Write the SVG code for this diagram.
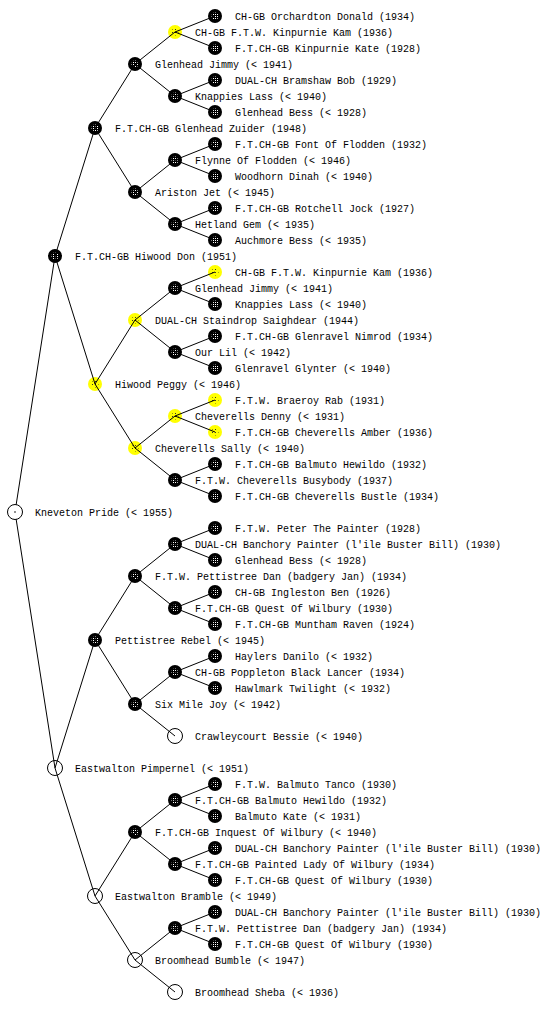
<svg xmlns="http://www.w3.org/2000/svg" xmlns:xlink="http://www.w3.org/1999/xlink" width="560" height="1024" viewBox="0 0 560 1024">
<style>
text{font-family:"Liberation Mono","DejaVu Sans Mono",monospace;font-size:10px;fill:#000}
#connectors line{stroke:#000;stroke-width:1}
</style>
<defs>
<pattern id="spW" width="2" height="2" patternUnits="userSpaceOnUse"><rect width="2" height="2" fill="#000"/><rect width="1" height="1" fill="#fff"/></pattern>
<pattern id="spK" width="3" height="3" patternUnits="userSpaceOnUse"><rect width="3" height="3" fill="#ffff00"/><rect width="1" height="1" fill="#333"/></pattern>
<g id="dk"><circle r="7" fill="#000"/><circle r="3.5" fill="url(#spW)"/></g>
<g id="yl"><circle r="7" fill="#ffff00"/><circle r="3.5" fill="url(#spK)"/></g>
<g id="wh"><circle r="7.5" fill="none" stroke="#000" stroke-width="1"/></g>
</defs>
<rect width="560" height="1024" fill="#fff"/>

<g id="n1"><use href="#dk" x="215" y="16"/><text x="235" y="20">CH-GB Orchardton Donald (1934)</text></g>
<g id="n2"><use href="#yl" x="175" y="32"/><text x="195" y="36">CH-GB F.T.W. Kinpurnie Kam (1936)</text></g>
<g id="n3"><use href="#dk" x="215" y="48"/><text x="235" y="52">F.T.CH-GB Kinpurnie Kate (1928)</text></g>
<g id="n4"><use href="#dk" x="135" y="64"/><text x="155" y="68">Glenhead Jimmy (&lt; 1941)</text></g>
<g id="n5"><use href="#dk" x="215" y="80"/><text x="235" y="84">DUAL-CH Bramshaw Bob (1929)</text></g>
<g id="n6"><use href="#dk" x="175" y="96"/><text x="195" y="100">Knappies Lass (&lt; 1940)</text></g>
<g id="n7"><use href="#dk" x="215" y="112"/><text x="235" y="116">Glenhead Bess (&lt; 1928)</text></g>
<g id="n8"><use href="#dk" x="95" y="128"/><text x="115" y="132">F.T.CH-GB Glenhead Zuider (1948)</text></g>
<g id="n9"><use href="#dk" x="215" y="144"/><text x="235" y="148">F.T.CH-GB Font Of Flodden (1932)</text></g>
<g id="n10"><use href="#dk" x="175" y="160"/><text x="195" y="164">Flynne Of Flodden (&lt; 1946)</text></g>
<g id="n11"><use href="#dk" x="215" y="176"/><text x="235" y="180">Woodhorn Dinah (&lt; 1940)</text></g>
<g id="n12"><use href="#dk" x="135" y="192"/><text x="155" y="196">Ariston Jet (&lt; 1945)</text></g>
<g id="n13"><use href="#dk" x="215" y="208"/><text x="235" y="212">F.T.CH-GB Rotchell Jock (1927)</text></g>
<g id="n14"><use href="#dk" x="175" y="224"/><text x="195" y="228">Hetland Gem (&lt; 1935)</text></g>
<g id="n15"><use href="#dk" x="215" y="240"/><text x="235" y="244">Auchmore Bess (&lt; 1935)</text></g>
<g id="n16"><use href="#dk" x="55" y="256"/><text x="75" y="260">F.T.CH-GB Hiwood Don (1951)</text></g>
<g id="n17"><use href="#yl" x="215" y="272"/><text x="235" y="276">CH-GB F.T.W. Kinpurnie Kam (1936)</text></g>
<g id="n18"><use href="#dk" x="175" y="288"/><text x="195" y="292">Glenhead Jimmy (&lt; 1941)</text></g>
<g id="n19"><use href="#dk" x="215" y="304"/><text x="235" y="308">Knappies Lass (&lt; 1940)</text></g>
<g id="n20"><use href="#yl" x="135" y="320"/><text x="155" y="324">DUAL-CH Staindrop Saighdear (1944)</text></g>
<g id="n21"><use href="#dk" x="215" y="336"/><text x="235" y="340">F.T.CH-GB Glenravel Nimrod (1934)</text></g>
<g id="n22"><use href="#dk" x="175" y="352"/><text x="195" y="356">Our Lil (&lt; 1942)</text></g>
<g id="n23"><use href="#dk" x="215" y="368"/><text x="235" y="372">Glenravel Glynter (&lt; 1940)</text></g>
<g id="n24"><use href="#yl" x="95" y="384"/><text x="115" y="388">Hiwood Peggy (&lt; 1946)</text></g>
<g id="n25"><use href="#yl" x="215" y="400"/><text x="235" y="404">F.T.W. Braeroy Rab (1931)</text></g>
<g id="n26"><use href="#yl" x="175" y="416"/><text x="195" y="420">Cheverells Denny (&lt; 1931)</text></g>
<g id="n27"><use href="#yl" x="215" y="432"/><text x="235" y="436">F.T.CH-GB Cheverells Amber (1936)</text></g>
<g id="n28"><use href="#yl" x="135" y="448"/><text x="155" y="452">Cheverells Sally (&lt; 1940)</text></g>
<g id="n29"><use href="#dk" x="215" y="464"/><text x="235" y="468">F.T.CH-GB Balmuto Hewildo (1932)</text></g>
<g id="n30"><use href="#dk" x="175" y="480"/><text x="195" y="484">F.T.W. Cheverells Busybody (1937)</text></g>
<g id="n31"><use href="#dk" x="215" y="496"/><text x="235" y="500">F.T.CH-GB Cheverells Bustle (1934)</text></g>
<g id="n33"><use href="#dk" x="215" y="528"/><text x="235" y="532">F.T.W. Peter The Painter (1928)</text></g>
<g id="n34"><use href="#dk" x="175" y="544"/><text x="195" y="548">DUAL-CH Banchory Painter (l'ile Buster Bill) (1930)</text></g>
<g id="n35"><use href="#dk" x="215" y="560"/><text x="235" y="564">Glenhead Bess (&lt; 1928)</text></g>
<g id="n36"><use href="#dk" x="135" y="576"/><text x="155" y="580">F.T.W. Pettistree Dan (badgery Jan) (1934)</text></g>
<g id="n37"><use href="#dk" x="215" y="592"/><text x="235" y="596">CH-GB Ingleston Ben (1926)</text></g>
<g id="n38"><use href="#dk" x="175" y="608"/><text x="195" y="612">F.T.CH-GB Quest Of Wilbury (1930)</text></g>
<g id="n39"><use href="#dk" x="215" y="624"/><text x="235" y="628">F.T.CH-GB Muntham Raven (1924)</text></g>
<g id="n40"><use href="#dk" x="95" y="640"/><text x="115" y="644">Pettistree Rebel (&lt; 1945)</text></g>
<g id="n41"><use href="#dk" x="215" y="656"/><text x="235" y="660">Haylers Danilo (&lt; 1932)</text></g>
<g id="n42"><use href="#dk" x="175" y="672"/><text x="195" y="676">CH-GB Poppleton Black Lancer (1934)</text></g>
<g id="n43"><use href="#dk" x="215" y="688"/><text x="235" y="692">Hawlmark Twilight (&lt; 1932)</text></g>
<g id="n44"><use href="#dk" x="135" y="704"/><text x="155" y="708">Six Mile Joy (&lt; 1942)</text></g>
<g id="n46"><use href="#wh" x="175" y="736"/><text x="195" y="740">Crawleycourt Bessie (&lt; 1940)</text></g>
<g id="n48"><use href="#wh" x="55" y="768"/><text x="75" y="772">Eastwalton Pimpernel (&lt; 1951)</text></g>
<g id="n49"><use href="#dk" x="215" y="784"/><text x="235" y="788">F.T.W. Balmuto Tanco (1930)</text></g>
<g id="n50"><use href="#dk" x="175" y="800"/><text x="195" y="804">F.T.CH-GB Balmuto Hewildo (1932)</text></g>
<g id="n51"><use href="#dk" x="215" y="816"/><text x="235" y="820">Balmuto Kate (&lt; 1931)</text></g>
<g id="n52"><use href="#dk" x="135" y="832"/><text x="155" y="836">F.T.CH-GB Inquest Of Wilbury (&lt; 1940)</text></g>
<g id="n53"><use href="#dk" x="215" y="848"/><text x="235" y="852">DUAL-CH Banchory Painter (l'ile Buster Bill) (1930)</text></g>
<g id="n54"><use href="#dk" x="175" y="864"/><text x="195" y="868">F.T.CH-GB Painted Lady Of Wilbury (1934)</text></g>
<g id="n55"><use href="#dk" x="215" y="880"/><text x="235" y="884">F.T.CH-GB Quest Of Wilbury (1930)</text></g>
<g id="n56"><use href="#wh" x="95" y="896"/><text x="115" y="900">Eastwalton Bramble (&lt; 1949)</text></g>
<g id="n57"><use href="#dk" x="215" y="912"/><text x="235" y="916">DUAL-CH Banchory Painter (l'ile Buster Bill) (1930)</text></g>
<g id="n58"><use href="#dk" x="175" y="928"/><text x="195" y="932">F.T.W. Pettistree Dan (badgery Jan) (1934)</text></g>
<g id="n59"><use href="#dk" x="215" y="944"/><text x="235" y="948">F.T.CH-GB Quest Of Wilbury (1930)</text></g>
<g id="n60"><use href="#wh" x="135" y="960"/><text x="155" y="964">Broomhead Bumble (&lt; 1947)</text></g>
<g id="n62"><use href="#wh" x="175" y="992"/><text x="195" y="996">Broomhead Sheba (&lt; 1936)</text></g>

<g id="connectors">
<line x1="15" y1="512" x2="55" y2="256"/>
<line x1="15" y1="512" x2="55" y2="768"/>
<line x1="55" y1="256" x2="95" y2="128"/>
<line x1="55" y1="256" x2="95" y2="384"/>
<line x1="95" y1="128" x2="135" y2="64"/>
<line x1="95" y1="128" x2="135" y2="192"/>
<line x1="135" y1="64" x2="175" y2="32"/>
<line x1="135" y1="64" x2="175" y2="96"/>
<line x1="175" y1="32" x2="215" y2="16"/>
<line x1="175" y1="32" x2="215" y2="48"/>
<line x1="175" y1="96" x2="215" y2="80"/>
<line x1="175" y1="96" x2="215" y2="112"/>
<line x1="135" y1="192" x2="175" y2="160"/>
<line x1="135" y1="192" x2="175" y2="224"/>
<line x1="175" y1="160" x2="215" y2="144"/>
<line x1="175" y1="160" x2="215" y2="176"/>
<line x1="175" y1="224" x2="215" y2="208"/>
<line x1="175" y1="224" x2="215" y2="240"/>
<line x1="95" y1="384" x2="135" y2="320"/>
<line x1="95" y1="384" x2="135" y2="448"/>
<line x1="135" y1="320" x2="175" y2="288"/>
<line x1="135" y1="320" x2="175" y2="352"/>
<line x1="175" y1="288" x2="215" y2="272"/>
<line x1="175" y1="288" x2="215" y2="304"/>
<line x1="175" y1="352" x2="215" y2="336"/>
<line x1="175" y1="352" x2="215" y2="368"/>
<line x1="135" y1="448" x2="175" y2="416"/>
<line x1="135" y1="448" x2="175" y2="480"/>
<line x1="175" y1="416" x2="215" y2="400"/>
<line x1="175" y1="416" x2="215" y2="432"/>
<line x1="175" y1="480" x2="215" y2="464"/>
<line x1="175" y1="480" x2="215" y2="496"/>
<line x1="55" y1="768" x2="95" y2="640"/>
<line x1="55" y1="768" x2="95" y2="896"/>
<line x1="95" y1="640" x2="135" y2="576"/>
<line x1="95" y1="640" x2="135" y2="704"/>
<line x1="135" y1="576" x2="175" y2="544"/>
<line x1="135" y1="576" x2="175" y2="608"/>
<line x1="175" y1="544" x2="215" y2="528"/>
<line x1="175" y1="544" x2="215" y2="560"/>
<line x1="175" y1="608" x2="215" y2="592"/>
<line x1="175" y1="608" x2="215" y2="624"/>
<line x1="135" y1="704" x2="175" y2="672"/>
<line x1="135" y1="704" x2="175" y2="736"/>
<line x1="175" y1="672" x2="215" y2="656"/>
<line x1="175" y1="672" x2="215" y2="688"/>
<line x1="95" y1="896" x2="135" y2="832"/>
<line x1="95" y1="896" x2="135" y2="960"/>
<line x1="135" y1="832" x2="175" y2="800"/>
<line x1="135" y1="832" x2="175" y2="864"/>
<line x1="175" y1="800" x2="215" y2="784"/>
<line x1="175" y1="800" x2="215" y2="816"/>
<line x1="175" y1="864" x2="215" y2="848"/>
<line x1="175" y1="864" x2="215" y2="880"/>
<line x1="135" y1="960" x2="175" y2="928"/>
<line x1="135" y1="960" x2="175" y2="992"/>
<line x1="175" y1="928" x2="215" y2="912"/>
<line x1="175" y1="928" x2="215" y2="944"/>
</g>

<g id="n32"><circle cx="15" cy="512" r="7.5" fill="#fff" stroke="#000" stroke-width="1"/><circle cx="15" cy="512" r="0.8" fill="#000"/><text x="35" y="516">Kneveton Pride (&lt; 1955)</text></g>
</svg>
